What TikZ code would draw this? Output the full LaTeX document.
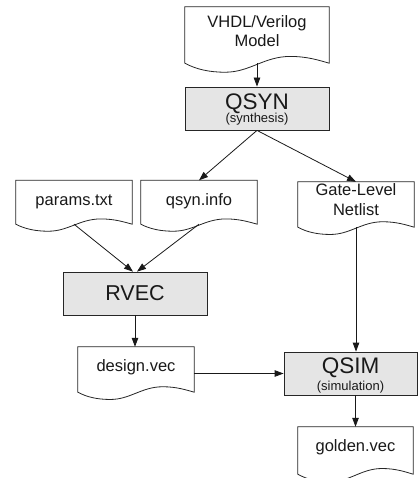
\documentclass[tikz,border=0pt]{standalone}
\usepackage{fontspec}
\setmainfont{Liberation Sans}
\usetikzlibrary{arrows.meta,calc}
\tikzset{
  docline/.style={draw=black!85, line width=0.8pt, fill=white},
  body/.style={draw=none, inner sep=0pt, minimum width=#1},
  procbox/.style={draw=black!85, line width=0.8pt, fill=black!10, inner sep=0pt},
  doctext/.style={anchor=base, inner sep=0pt, font=\fontsize{16.5}{19}\selectfont, text=black!90},
  bigtext/.style={anchor=base, inner sep=0pt, font=\fontsize{22.5}{26}\selectfont, text=black!90},
  smalltext/.style={anchor=base, inner sep=0pt, font=\fontsize{13}{15}\selectfont, text=black!90},
  arr/.style={draw=black!90, line width=0.8pt, -{Triangle[length=9pt,width=6.5pt]}},
  plainline/.style={draw=black!90, line width=0.8pt}
}
\newcommand\docpath[1]{%
  \draw[docline] let \p1=(#1.south west), \p2=(#1.north east),
    \n1={\x2-\x1}, \n2={\y2-\y1} in
    (\x1,\y2) -- (\x2,\y2) -- (\x2,\y1)
    .. controls (\x2-0.07*\n1, \y1+0.05*\n2) and (\x2-0.15*\n1, \y1+0.12*\n2) .. (\x2-0.27*\n1, \y1+0.12*\n2)
    .. controls (\x2-0.45*\n1, \y1+0.12*\n2) and (\x1+0.45*\n1, \y1-0.16*\n2) .. (\x1+0.28*\n1, \y1-0.16*\n2)
    .. controls (\x1+0.17*\n1, \y1-0.16*\n2) and (\x1+0.08*\n1, \y1-0.11*\n2) .. (\x1,\y1) -- cycle;}
\begin{document}
\begin{tikzpicture}[x=1pt,y=-1pt]
\useasboundingbox (0,0) rectangle (418,478);

% document bodies
\node[body=144pt, minimum height=56pt] (vhdl) at (257,35) {};
\node[body=116pt, minimum height=43.5pt] (params) at (74,202.25) {};
\node[body=116pt, minimum height=43.5pt] (qinfo) at (199,202.25) {};
\node[body=116pt, minimum height=45pt] (gate) at (356,204.5) {};
\node[body=116pt, minimum height=45pt] (design) at (136,369.5) {};
\node[body=115pt, minimum height=47pt] (golden) at (355.5,450.5) {};
\docpath{vhdl}
\docpath{params}
\docpath{qinfo}
\docpath{gate}
\docpath{design}
\docpath{golden}

% process boxes
\node[procbox, minimum width=144pt, minimum height=43pt] (qsyn) at (257,108.5) {};
\node[procbox, minimum width=144pt, minimum height=43pt] (rvec) at (135,293.5) {};
\node[procbox, minimum width=133pt, minimum height=43pt] (qsim) at (350.5,373.5) {};

% texts
\node[doctext] (vhdlt1) at (257,27.7) {VHDL/Verilog};
\node[doctext] (vhdlt2) at (257,46.7) {Model};
\node[bigtext] (qsynt) at (257,109.5) {QSYN};
\node[smalltext] (qsyns) at (257,123) {(synthesis)};
\node[doctext] (paramst) at (74,205) {params.txt};
\node[doctext] (qinfot) at (199,205) {qsyn.info};
\node[doctext] (gatet1) at (356,196) {Gate-Level};
\node[doctext] (gatet2) at (356,215) {Netlist};
\node[bigtext, font=\fontsize{21.5}{25}\selectfont] (rvect) at (135,300.5) {RVEC};
\node[doctext] (designt) at (136,371.7) {design.vec};
\node[bigtext] (qsimt) at (350.5,373.5) {QSIM};
\node[smalltext] (qsims) at (350.5,390) {(simulation)};
\node[doctext] (goldent) at (355.5,451.7) {golden.vec};

% connectors
\draw[arr] (vhdl.south) -- (qsyn.north);
\draw[arr] (qsyn.south) -- (qinfo.north);
\draw[arr] (qsyn.south) -- (gate.north);
\draw[arr] (params.south) -- ([xshift=-2pt]rvec.north);
\draw[arr] (qinfo.south) -- ([xshift=2pt]rvec.north);
\draw[arr] (rvec.south) -- (rvec.south |- design.north);
\draw[arr] (gate.south) -- (gate.south |- qsim.north);
\draw[arr] (design.east |- qsim.west) -- (qsim.west);
\draw[arr] (golden.north |- qsim.south) -- (golden.north);
\end{tikzpicture}
\end{document}
